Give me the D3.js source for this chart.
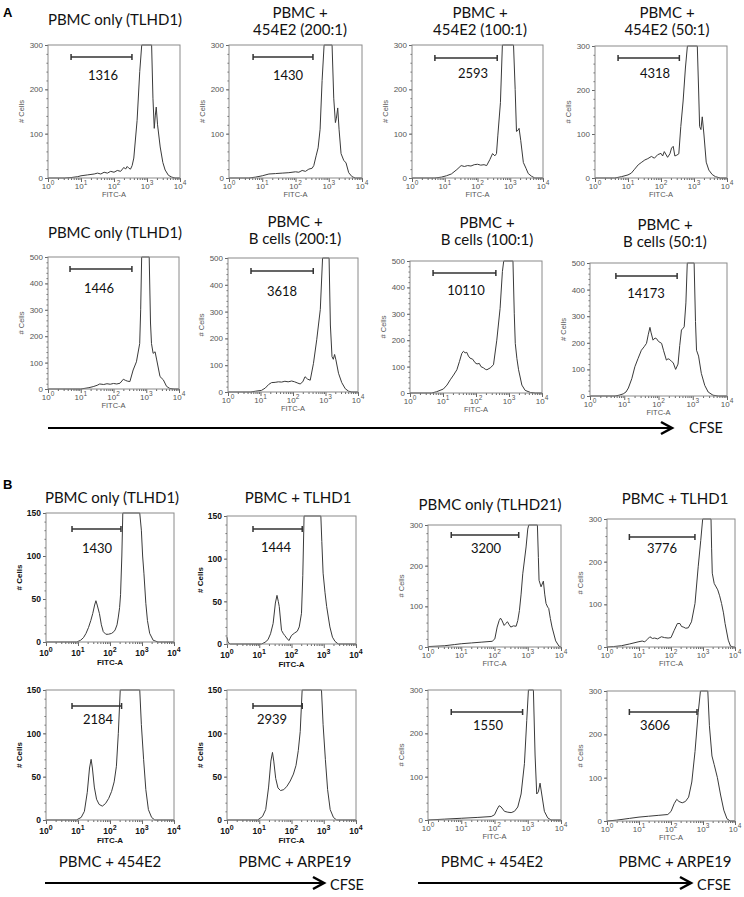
<!DOCTYPE html>
<html>
<head>
<meta charset="utf-8">
<script src="https://cdn.jsdelivr.net/npm/d3@7"></script>
<style>
  body { margin: 0; background: #fff; }
  .ttl { font-family: Lato, "Open Sans", sans-serif; font-size: 15px; fill: #111; }
  .cnt { font-family: Lato, "Open Sans", sans-serif; font-size: 13px; fill: #111; }
  .tick text { font-family: "Liberation Sans", Arial, sans-serif; }
</style>
</head>
<body>
<svg id="fig" width="744" height="897"></svg>
<script>
// ---- data ----
// histograms: [log10(FITC-A), # cells]
var histA1 = [[0,0],[0.5,0],[0.7,1],[0.9,3],[1.0,5],[1.2,7],[1.4,9],[1.5,11],[1.6,9],[1.7,13],[1.8,11],[1.9,15],[2.0,13],[2.1,17],[2.2,15],[2.3,24],[2.35,20],[2.4,26],[2.45,22],[2.5,20],[2.55,28],[2.6,45],[2.7,130],[2.78,240],[2.84,310],[3.14,310],[3.18,180],[3.22,112],[3.25,140],[3.28,160],[3.32,120],[3.4,70],[3.48,35],[3.55,18],[3.65,6],[3.75,2],[3.85,0],[4,0]];
var histA2 = [[0,0],[0.6,0],[0.8,2],[1.0,5],[1.2,9],[1.4,10],[1.6,11],[1.8,12],[2.0,14],[2.1,13],[2.2,17],[2.3,15],[2.4,20],[2.5,22],[2.55,28],[2.62,50],[2.68,68],[2.74,110],[2.8,220],[2.86,320],[3.1,320],[3.15,180],[3.2,125],[3.23,135],[3.27,158],[3.31,110],[3.37,55],[3.45,40],[3.52,34],[3.6,12],[3.7,3],[3.8,0],[4,0]];
var histA3 = [[0,0],[0.7,0],[0.9,2],[1.05,5],[1.2,9],[1.37,19],[1.5,28],[1.6,26],[1.7,28],[1.8,27],[1.9,30],[2.0,31],[2.1,29],[2.2,30],[2.28,28],[2.38,42],[2.46,55],[2.53,50],[2.58,55],[2.62,95],[2.7,170],[2.76,300],[2.78,320],[3.1,320],[3.15,200],[3.19,105],[3.24,108],[3.27,112],[3.32,85],[3.4,35],[3.48,22],[3.55,10],[3.65,4],[3.75,0],[4,0]];
var histA4 = [[0,0],[0.6,0],[0.8,3],[1.0,7],[1.1,11],[1.2,20],[1.31,30],[1.4,35],[1.51,41],[1.6,44],[1.71,49],[1.8,45],[1.9,53],[2.0,56],[2.05,50],[2.1,60],[2.2,47],[2.27,55],[2.32,68],[2.37,72],[2.42,50],[2.48,52],[2.54,55],[2.6,117],[2.67,175],[2.74,250],[2.8,320],[3.1,320],[3.14,200],[3.17,117],[3.21,110],[3.25,139],[3.3,100],[3.37,36],[3.45,18],[3.55,8],[3.65,3],[3.8,0],[4,0]];
var histA5 = [[0,0],[1.0,0],[1.1,2],[1.25,5],[1.38,9],[1.5,14],[1.58,19],[1.7,17],[1.8,20],[1.9,18],[2.0,21],[2.1,19],[2.2,22],[2.3,37],[2.36,33],[2.42,30],[2.5,28],[2.6,72],[2.7,103],[2.8,172],[2.83,300],[2.86,520],[3.09,520],[3.13,250],[3.16,172],[3.21,135],[3.27,141],[3.32,110],[3.42,47],[3.52,35],[3.62,10],[3.72,2],[3.85,0],[4,0]];
var histA6 = [[0,0],[0.7,0],[0.85,3],[1.03,6],[1.15,15],[1.25,28],[1.34,35],[1.45,36],[1.55,38],[1.65,37],[1.75,40],[1.85,38],[1.96,41],[2.05,38],[2.15,33],[2.22,30],[2.3,38],[2.37,57],[2.45,48],[2.53,44],[2.63,107],[2.73,195],[2.84,308],[2.91,520],[3.11,520],[3.15,250],[3.2,132],[3.24,122],[3.28,140],[3.32,120],[3.4,70],[3.5,35],[3.61,12],[3.71,3],[3.81,0],[4,0]];
var histA7 = [[0,0],[0.66,0],[0.81,5],[1.01,15],[1.12,30],[1.22,50],[1.32,68],[1.42,88],[1.5,120],[1.57,150],[1.62,158],[1.67,152],[1.72,154],[1.77,140],[1.82,132],[1.9,128],[1.97,115],[2.03,110],[2.1,112],[2.15,100],[2.23,95],[2.28,90],[2.33,88],[2.43,95],[2.53,107],[2.63,200],[2.73,320],[2.8,460],[2.84,520],[3.12,520],[3.16,300],[3.19,188],[3.24,130],[3.29,88],[3.39,30],[3.49,10],[3.65,2],[3.8,0],[4,0]];
var histA8 = [[0,0],[0.73,0],[0.85,3],[0.97,8],[1.05,15],[1.12,30],[1.22,65],[1.31,110],[1.4,140],[1.5,172],[1.58,185],[1.65,198],[1.7,230],[1.75,258],[1.78,240],[1.84,210],[1.9,218],[1.94,216],[2.0,205],[2.09,198],[2.15,170],[2.23,135],[2.28,140],[2.33,137],[2.38,130],[2.43,125],[2.5,100],[2.57,120],[2.62,190],[2.67,248],[2.72,255],[2.75,260],[2.8,350],[2.84,520],[3.04,520],[3.08,280],[3.11,172],[3.17,150],[3.25,85],[3.35,40],[3.45,15],[3.59,3],[3.74,0],[4,0]];
var histB1 = [[0,0],[0.96,0],[1.08,2],[1.17,5],[1.25,10],[1.33,17],[1.4,25],[1.46,33],[1.52,43],[1.56,48],[1.6,43],[1.67,33],[1.73,20],[1.79,12],[1.87,9],[1.95,9],[2.05,10],[2.12,12],[2.16,14],[2.22,20],[2.26,29],[2.3,40],[2.33,55],[2.37,100],[2.4,160],[2.93,160],[2.98,130],[3.02,100],[3.06,80],[3.12,45],[3.17,25],[3.24,10],[3.35,2],[3.5,0],[4,0]];
var histB2 = [[0,8],[0.03,2],[0.1,0],[1.07,0],[1.18,2],[1.27,5],[1.35,12],[1.43,24],[1.5,48],[1.55,57],[1.59,50],[1.62,44],[1.69,16],[1.75,12],[1.79,10],[1.85,7],[1.92,4],[2.0,10],[2.1,13],[2.18,15],[2.24,20],[2.31,36],[2.35,80],[2.39,160],[2.91,160],[2.94,120],[2.98,83],[3.04,60],[3.09,44],[3.19,20],[3.27,8],[3.35,3],[3.45,0],[4,0]];
var histB3 = [[0,1],[0.49,3],[0.8,6],[1.0,8],[1.31,10],[1.62,12],[1.93,14],[2.01,20],[2.08,49],[2.14,65],[2.18,71],[2.22,66],[2.29,53],[2.34,58],[2.39,62],[2.44,55],[2.49,49],[2.57,52],[2.65,51],[2.7,65],[2.75,90],[2.8,130],[2.85,180],[2.95,246],[3.0,290],[3.03,320],[3.29,320],[3.32,220],[3.34,164],[3.4,148],[3.47,162],[3.51,130],[3.55,107],[3.6,98],[3.63,95],[3.68,70],[3.73,49],[3.84,15],[3.94,2],[4,0]];
var histB4 = [[0,0],[0.2,1],[0.45,3],[0.7,7],[0.97,12],[1.1,14],[1.18,12],[1.26,18],[1.34,24],[1.42,20],[1.49,21],[1.58,19],[1.7,24],[1.8,22],[1.91,21],[2.0,22],[2.1,39],[2.2,55],[2.28,55],[2.33,48],[2.38,47],[2.46,44],[2.54,45],[2.64,59],[2.75,102],[2.85,188],[2.93,250],[2.99,320],[3.25,320],[3.27,230],[3.29,173],[3.35,149],[3.46,134],[3.52,120],[3.58,102],[3.64,80],[3.69,55],[3.79,16],[3.86,2],[3.95,0],[4,0]];
var histB5 = [[0,0],[0.95,0],[1.1,3],[1.2,10],[1.29,32],[1.36,60],[1.41,70],[1.45,60],[1.51,38],[1.58,24],[1.66,18],[1.76,16],[1.86,19],[1.96,25],[2.05,33],[2.13,44],[2.2,62],[2.26,100],[2.32,160],[2.93,160],[2.98,110],[3.05,70],[3.12,35],[3.2,12],[3.3,3],[3.4,0],[4,0]];
var histB6 = [[0,0],[0.95,0],[1.1,4],[1.2,12],[1.29,38],[1.36,68],[1.41,78],[1.45,68],[1.51,48],[1.58,37],[1.66,34],[1.76,35],[1.86,39],[1.96,45],[2.06,53],[2.14,63],[2.21,80],[2.27,102],[2.33,160],[2.93,160],[2.98,110],[3.05,70],[3.12,35],[3.2,12],[3.3,3],[3.4,0],[4,0]];
var histB7 = [[0,0],[0.5,2],[1.0,4],[1.5,6],[1.9,8],[2.0,12],[2.08,25],[2.14,33],[2.2,30],[2.3,20],[2.4,18],[2.5,17],[2.6,20],[2.7,30],[2.8,60],[2.9,130],[2.97,230],[3.02,320],[3.17,320],[3.22,150],[3.27,60],[3.32,65],[3.37,85],[3.42,60],[3.5,20],[3.6,5],[3.7,0],[4,0]];
var histB8 = [[0,0],[0.3,2],[0.7,6],[1.0,9],[1.3,11],[1.6,13],[1.9,15],[2.0,22],[2.1,40],[2.18,50],[2.25,45],[2.35,42],[2.45,45],[2.55,55],[2.65,90],[2.75,160],[2.85,250],[2.92,320],[3.15,320],[3.2,220],[3.28,150],[3.35,130],[3.45,100],[3.55,60],[3.65,25],[3.75,5],[3.85,0],[4,0]];

var histograms = [histA1, histA2, histA3, histA4, histA5, histA6, histA7, histA8,
                  histB1, histB2, histB3, histB4, histB5, histB6, histB7, histB8];

var titles = [
    ['PBMC only (TLHD1)'], ['PBMC +', '454E2 (200:1)'], ['PBMC +', '454E2 (100:1)'], ['PBMC +', '454E2 (50:1)'],
    ['PBMC only (TLHD1)'], ['PBMC +', 'B cells (200:1)'], ['PBMC +', 'B cells (100:1)'], ['PBMC +', 'B cells (50:1)'],
    ['PBMC only (TLHD1)'], ['PBMC + TLHD1'], ['PBMC only (TLHD21)'], ['PBMC + TLHD1'],
    ['PBMC + 454E2'], ['PBMC + ARPE19'], ['PBMC + 454E2'], ['PBMC + ARPE19']
];
var yMaxes = [300, 300, 300, 300, 500, 500, 500, 500, 150, 150, 300, 300, 150, 150, 300, 300];
var gateRanges = [[5, 350], [5.3, 335], [5, 400], [5, 360], [4.7, 365], [5.1, 420], [5, 400], [5.7, 350],
                  [6.5, 220], [6.4, 215], [5, 535], [5, 560], [6.5, 230], [6.4, 215], [5, 700], [5, 650]];
var gateCounts = [1316, 1430, 2593, 4318, 1446, 3618, 10110, 14173, 1430, 1444, 3200, 3776, 2184, 2939, 1550, 3606];
var xTicks = [1, 10, 100, 1000, 10000];
var xTickExp = ['0', '1', '2', '3', '4'];

// ---- layout (pixel boxes of each plot) ----
var layout = [
    {x0: 48, x1: 180, y0: 45, y1: 178, tx: 115, ty: 25, gy: 57, lx: 103, ly: 80},
    {x0: 229, x1: 362, y0: 45, y1: 178, tx: 300, ty: 18, gy: 57, lx: 288, ly: 80},
    {x0: 412, x1: 543, y0: 45, y1: 178, tx: 480, ty: 18, gy: 58, lx: 473, ly: 78},
    {x0: 595, x1: 727, y0: 46, y1: 178, tx: 667, ty: 18, gy: 58, lx: 655, ly: 78},
    {x0: 48, x1: 179, y0: 257, y1: 389, tx: 115, ty: 238, gy: 269, lx: 99, ly: 293},
    {x0: 228, x1: 358, y0: 258, y1: 392, tx: 295, ty: 227, gy: 271, lx: 282, ly: 296},
    {x0: 410, x1: 542, y0: 261, y1: 393, tx: 487, ty: 228, gy: 273, lx: 466, ly: 295},
    {x0: 590, x1: 727, y0: 263, y1: 396, tx: 665, ty: 230, gy: 276, lx: 646, ly: 298},
    {x0: 46, x1: 174, y0: 513, y1: 642, tx: 112, ty: 503, gy: 529, lx: 97, ly: 553, bold: true},
    {x0: 227, x1: 356, y0: 516, y1: 644, tx: 298, ty: 503, gy: 529, lx: 276, ly: 552, bold: true},
    {x0: 428, x1: 561, y0: 525, y1: 647, tx: 490, ty: 510, gy: 535, lx: 486, ly: 553},
    {x0: 607, x1: 735, y0: 519, y1: 647, tx: 675, ty: 504, gy: 537, lx: 662, ly: 553},
    {x0: 46, x1: 174, y0: 690, y1: 820, tx: 110, ty: 867, gy: 706, lx: 98, ly: 724, bold: true},
    {x0: 227, x1: 356, y0: 690, y1: 820, tx: 295, ty: 867, gy: 706, lx: 272, ly: 724, bold: true},
    {x0: 428, x1: 561, y0: 690, y1: 820, tx: 492, ty: 867, gy: 712, lx: 488, ly: 730},
    {x0: 607, x1: 735, y0: 691, y1: 821, tx: 675, ty: 867, gy: 712, lx: 655, ly: 730}
];

var svg = d3.select('#fig');

function minorLogTicks() {
    var out = [];
    [1, 10, 100, 1000].forEach(function (dec) {
        for (var k = 2; k <= 9; k++) { out.push(dec * k); }
    });
    return out;
}

function drawPanel(i) {
    var L = layout[i];
    var bold = !!L.bold;
    var tickFill = bold ? '#111' : '#555';
    var tickSize = bold ? 8.5 : 8;
    var weight = bold ? 'bold' : 'normal';

    var x = d3.scaleLog().domain([1, 1e4]).range([L.x0, L.x1]);
    var y = d3.scaleLinear().domain([0, yMaxes[i]]).range([L.y1, L.y0]).clamp(true);
    var g = svg.append('g');

    // x axis: major + minor ticks
    var xa = g.append('g').attr('transform', 'translate(0,' + L.y1 + ')')
        .call(d3.axisBottom(x).tickValues(xTicks).tickSize(4).tickFormat(''));
    g.append('g').attr('transform', 'translate(0,' + L.y1 + ')')
        .call(d3.axisBottom(x).tickValues(minorLogTicks()).tickSize(2).tickFormat(''))
        .select('.domain').remove();
    xa.select('.domain').remove();
    xTicks.forEach(function (v, k) {
        var t = g.append('text')
            .attr('x', x(v)).attr('y', L.y1 + (bold ? 14 : 11))
            .attr('text-anchor', 'middle')
            .style('font-family', '"Liberation Sans", Arial, sans-serif')
            .style('font-size', tickSize + 'px').style('font-weight', weight)
            .style('fill', tickFill)
            .text('10');
        t.append('tspan').attr('dy', -4).style('font-size', (tickSize - 1.5) + 'px').text(xTickExp[k]);
    });
    g.append('text')
        .attr('x', (L.x0 + L.x1) / 2).attr('y', L.y1 + (bold ? 23 : 19))
        .attr('text-anchor', 'middle')
        .style('font-family', '"Liberation Sans", Arial, sans-serif')
        .style('font-size', (tickSize - 0.5) + 'px').style('font-weight', weight).style('fill', tickFill)
        .text('FITC-A');

    // y axis
    var step = yMaxes[i] === 150 ? 50 : 100;
    var ya = g.append('g').attr('transform', 'translate(' + L.x0 + ',0)')
        .call(d3.axisLeft(y).tickValues(d3.range(0, yMaxes[i] + 1, step)).tickSize(3).tickPadding(2));
    ya.select('.domain').remove();
    ya.selectAll('text')
        .style('font-size', tickSize + 'px').style('font-weight', weight).style('fill', tickFill);
    g.append('g').attr('transform', 'translate(' + L.x0 + ',0)')
        .call(d3.axisLeft(y).tickValues(d3.range(0, yMaxes[i] + 1, step / 5)).tickSize(1.5).tickFormat(''))
        .select('.domain').remove();
    g.selectAll('.tick line').attr('stroke', '#666');
    g.append('text')
        .attr('transform', 'translate(' + (L.x0 - 24) + ',' + ((L.y0 + L.y1) / 2) + ') rotate(-90)')
        .attr('text-anchor', 'middle')
        .style('font-family', '"Liberation Sans", Arial, sans-serif')
        .style('font-size', (tickSize - 0.5) + 'px').style('font-weight', weight).style('fill', tickFill)
        .text('# Cells');

    // histogram line
    var line = d3.line()
        .x(function (d) { return x(Math.pow(10, d[0])); })
        .y(function (d) { return y(d[1]); });
    g.append('path').datum(histograms[i])
        .attr('d', line).attr('fill', 'none')
        .attr('stroke', '#3a3a3a').attr('stroke-width', 1);

    // frame
    g.append('rect')
        .attr('x', L.x0).attr('y', L.y0)
        .attr('width', L.x1 - L.x0).attr('height', L.y1 - L.y0)
        .attr('fill', 'none').attr('stroke', '#8a8a8a').attr('stroke-width', 1);

    // gate
    var gx0 = x(gateRanges[i][0]), gx1 = x(gateRanges[i][1]);
    g.append('path')
        .attr('d', 'M' + gx0 + ',' + L.gy + 'H' + gx1 +
                   'M' + gx0 + ',' + (L.gy - 3) + 'V' + (L.gy + 3) +
                   'M' + gx1 + ',' + (L.gy - 3) + 'V' + (L.gy + 3))
        .attr('stroke', '#333').attr('stroke-width', 1.5).attr('fill', 'none');
    g.append('text').attr('class', 'cnt')
        .attr('x', L.lx).attr('y', L.ly).attr('text-anchor', 'middle')
        .text(gateCounts[i]);

    // title
    titles[i].forEach(function (s, k) {
        g.append('text').attr('class', 'ttl')
            .attr('x', L.tx).attr('y', L.ty + k * 17)
            .attr('text-anchor', 'middle').text(s);
    });
}

d3.range(16).forEach(drawPanel);

// panel letters
svg.append('text').attr('x', 3).attr('y', 17)
    .style('font-family', '"Liberation Sans", Arial, sans-serif')
    .style('font-size', '13px').style('font-weight', 'bold').text('A');
svg.append('text').attr('x', 3).attr('y', 489)
    .style('font-family', '"Liberation Sans", Arial, sans-serif')
    .style('font-size', '13px').style('font-weight', 'bold').text('B');

// CFSE arrows
var arrows = [
    {x0: 48, x1: 672, y: 428, tx: 689, ty: 433},
    {x0: 45, x1: 324, y: 883, tx: 330, ty: 890},
    {x0: 418, x1: 691, y: 883, tx: 697, ty: 890}
];
arrows.forEach(function (a) {
    svg.append('line').attr('x1', a.x0).attr('x2', a.x1 - 2).attr('y1', a.y).attr('y2', a.y)
        .attr('stroke', '#000').attr('stroke-width', 2);
    svg.append('path')
        .attr('d', 'M' + (a.x1 - 11) + ',' + (a.y - 6) + 'L' + a.x1 + ',' + a.y + 'L' + (a.x1 - 11) + ',' + (a.y + 6))
        .attr('fill', 'none').attr('stroke', '#000').attr('stroke-width', 2.5);
    svg.append('text').attr('class', 'ttl')
        .attr('x', a.tx).attr('y', a.ty).style('font-size', '14.5px').text('CFSE');
});
</script>
</body>
</html>
